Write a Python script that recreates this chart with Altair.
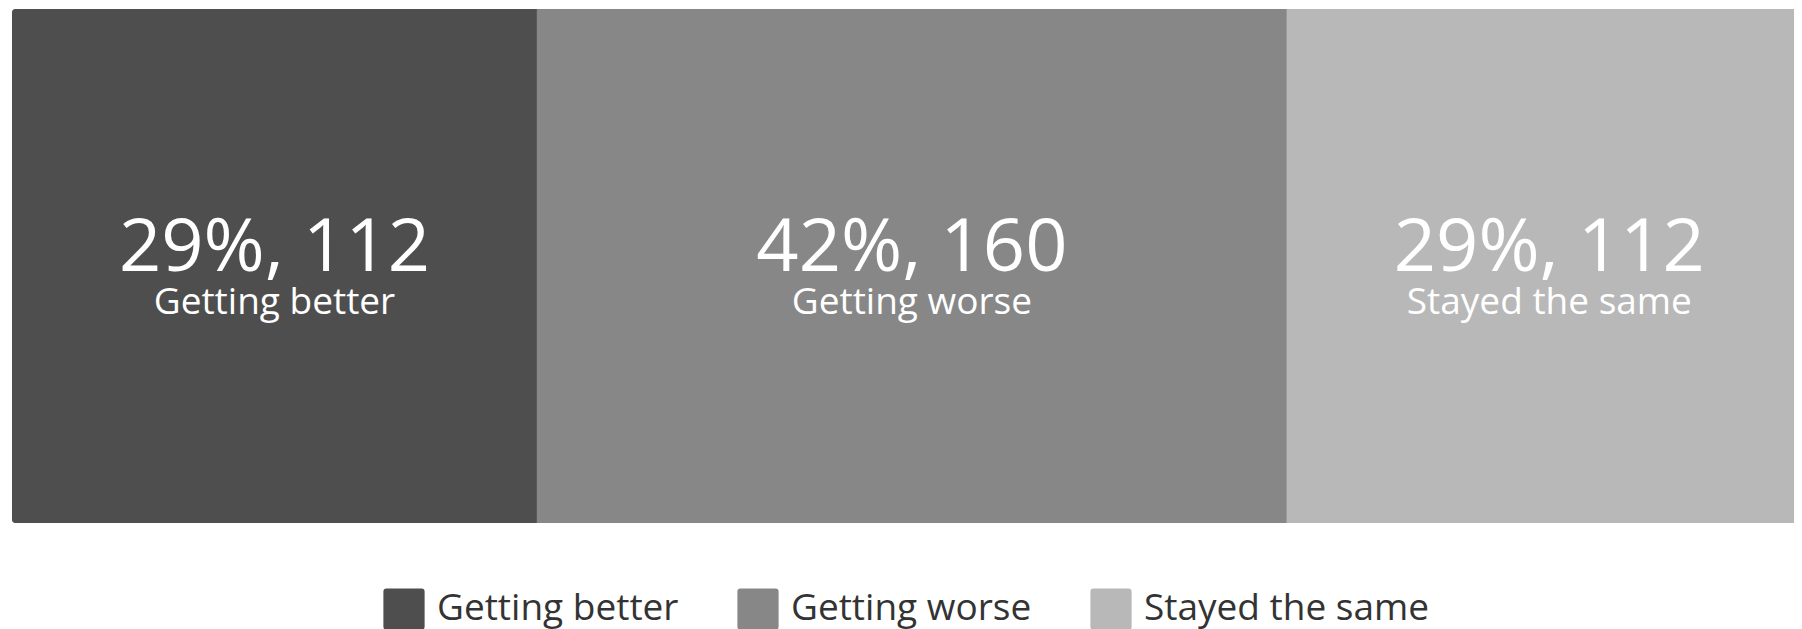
import altair as alt
import pandas as pd

categories = ["Getting better", "Getting worse", "Stayed the same"]
counts = [112, 160, 112]
percents = [29, 42, 29]
colors = ["#4e4e4e", "#878787", "#b8b8b8"]

starts = []
acc = 0
for c in counts:
    starts.append(acc)
    acc += c

df = pd.DataFrame({
    "category": categories,
    "count": counts,
    "start": starts,
    "end": [s + c for s, c in zip(starts, counts)],
    "mid": [s + c / 2 for s, c in zip(starts, counts)],
    "value_label": [f"{p}%, {c}" for p, c in zip(percents, counts)],
    "order": list(range(len(categories))),
    "row": ["all"] * len(categories),
})

# visible window of the bar: the full bar (384) would span 1800px; only 1782px are visible
xscale = alt.Scale(domain=[0, 380.2], nice=False, zero=True)
yenc = alt.Y("row:N", axis=None, scale=alt.Scale(paddingInner=0, paddingOuter=0))

rounded_square = (
    "M-0.85,-1H0.85Q1,-1 1,-0.85V0.85Q1,1 0.85,1H-0.85Q-1,1 -1,0.85"
    "V-0.85Q-1,-1 -0.85,-1Z"
)

color = alt.Color(
    "category:N",
    scale=alt.Scale(domain=categories, range=colors),
    sort=categories,
    legend=alt.Legend(
        title=None,
        orient="none",
        legendX=371,
        legendY=579,
        direction="horizontal",
        symbolType=rounded_square,
        symbolSize=1700,
        symbolStrokeWidth=0,
        symbolOpacity=1,
        labelFont="Open Sans",
        labelFontSize=37,
        labelColor="#333333",
        labelOffset=12,
        columnPadding=58,
        labelLimit=600,
    ),
)

base = alt.Chart(df)

bar_first = base.transform_filter(alt.datum.order == 0).mark_bar(
    cornerRadiusTopLeft=3, cornerRadiusBottomLeft=3, clip=True
).encode(
    x=alt.X("start:Q", scale=xscale, axis=None),
    x2="end:Q",
    y=yenc,
    color=color,
)

bar_rest = base.transform_filter(alt.datum.order > 0).mark_bar(clip=True).encode(
    x=alt.X("start:Q", scale=xscale, axis=None),
    x2="end:Q",
    y=yenc,
    color=color,
)

big_text = base.mark_text(
    font="Open Sans", fontSize=74, color="white", baseline="alphabetic", dy=5, align="center"
).encode(
    x=alt.X("mid:Q", scale=xscale, axis=None),
    y=yenc,
    text="value_label:N",
)

small_text = base.mark_text(
    font="Open Sans", fontSize=37, color="white", baseline="alphabetic", dy=48, align="center"
).encode(
    x=alt.X("mid:Q", scale=xscale, axis=None),
    y=yenc,
    text="category:N",
)

chart = alt.layer(bar_first, bar_rest, big_text, small_text).properties(
    width=1782,
    height=514,
    padding={"left": 4, "top": 1, "right": 0, "bottom": 0},
).configure_view(stroke=None)

chart.save("out.html", embed_options={"renderer": "svg", "actions": False})
